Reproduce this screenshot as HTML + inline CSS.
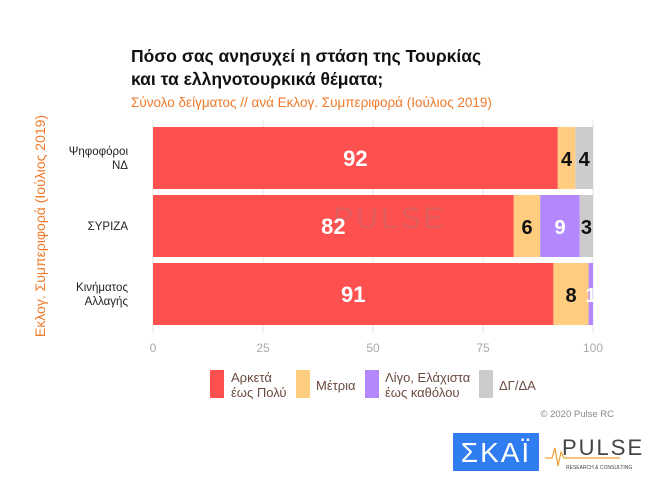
<!DOCTYPE html>
<html><head><meta charset="utf-8"><style>
body{margin:0;background:#fff;}
svg text{font-family:"Liberation Sans","DejaVu Sans",sans-serif;}
</style></head><body>
<svg id="chart" width="650" height="478" xmlns="http://www.w3.org/2000/svg">
<text x="131" y="62" font-size="17.5" font-weight="bold" fill="#111">Πόσο σας ανησυχεί η στάση της Τουρκίας</text>
<text x="131" y="85" font-size="17.5" font-weight="bold" fill="#111">και τα ελληνοτουρκικά θέματα;</text>
<text x="131" y="107" font-size="13.5" fill="#f07a2a">Σύνολο δείγματος // ανά Εκλογ. Συμπεριφορά (Ιούλιος 2019)</text>
<text transform="translate(45,226) rotate(-90)" text-anchor="middle" font-size="14" fill="#f07a2a">Εκλογ. Συμπεριφορά (Ιούλιος 2019)</text>
<g id="grid"></g>
<g id="bars"></g>
<text x="390" y="228" text-anchor="middle" font-size="30" fill="#888" opacity="0.25" letter-spacing="3">PULSE</text>
<g id="labels"></g>
<g id="legend">
<rect x="210" y="370" width="14" height="28" fill="#ff5050"/>
<text x="231" y="382" font-size="13" fill="#6b4a3f">Αρκετά</text>
<text x="231" y="397" font-size="13" fill="#6b4a3f">έως Πολύ</text>
<rect x="296" y="370" width="14" height="28" fill="#ffcc80"/>
<text x="316" y="390" font-size="13" fill="#6b4a3f">Μέτρια</text>
<rect x="365" y="370" width="14" height="28" fill="#b388ff"/>
<text x="385" y="382" font-size="13" fill="#6b4a3f">Λίγο, Ελάχιστα</text>
<text x="385" y="397" font-size="13" fill="#6b4a3f">έως καθόλου</text>
<rect x="479" y="370" width="14" height="28" fill="#cccccc"/>
<text x="499" y="390" font-size="13" fill="#6b4a3f">ΔΓ/ΔΑ</text>
</g>
<text x="614" y="417" text-anchor="end" font-size="9.5" fill="#888">© 2020 Pulse RC</text>
<g>
<rect x="453" y="433" width="86" height="38" fill="#2f7df0"/>
<text x="496" y="462" text-anchor="middle" font-size="28" fill="#fff" letter-spacing="2">ΣΚΑΪ</text>
</g>
<g>
<polyline points="545,458 552,458 555,448 558,466 561,452 564,458 620,458" fill="none" stroke="#f0a030" stroke-width="1.2"/>
<text x="562" y="455" font-size="22" fill="#444" letter-spacing="2">PULSE</text>
<text x="566" y="469" font-size="5" fill="#444">RESEARCH &amp; CONSULTING</text>
</g>
</svg>
<script>
const categories = ["Ψηφοφόροι ΝΔ", "ΣΥΡΙΖΑ", "Κινήματος Αλλαγής"];
const catLines = [["Ψηφοφόροι","ΝΔ"],["ΣΥΡΙΖΑ"],["Κινήματος","Αλλαγής"]];
const seriesNames = ["Αρκετά έως Πολύ","Μέτρια","Λίγο, Ελάχιστα έως καθόλου","ΔΓ/ΔΑ"];
const muchValues = [92, 82, 91];
const moderateValues = [4, 6, 8];
const littleValues = [0, 9, 1];
const dkValues = [4, 3, 0];
const ticks = [0, 25, 50, 75, 100];
const series = [muchValues, moderateValues, littleValues, dkValues];
const colors = ["#ff5050","#ffcc80","#b388ff","#cccccc"];
const textColors = ["#fff","#111","#fff","#111"];
const NS="http://www.w3.org/2000/svg";
const x = v => 153 + v * 4.4;
const rowTop = i => 127 + i * 68;
const barH = 62;
function mk(tag, attrs, parent){const e=document.createElementNS(NS,tag);for(const k in attrs)e.setAttribute(k,attrs[k]);parent.appendChild(e);return e;}
const grid=document.getElementById('grid'), bars=document.getElementById('bars'), labels=document.getElementById('labels');
ticks.forEach(t=>{
  const l=mk('line',{x1:x(t),x2:x(t),y1:120,y2:333,stroke:'#e6e6e6','stroke-width':1},grid);
  
  
  const tx=mk('text',{x:x(t),y:352,'text-anchor':'middle','font-size':12,fill:'#aaa'},grid);
  tx.textContent=t;
  
  
});
categories.forEach((c,i)=>{
  const lines=catLines[i];
  const cy=rowTop(i)+barH/2;
  lines.forEach((ln,j)=>{
    const t=mk('text',{x:128,y:cy+4+(j-(lines.length-1)/2)*14,'text-anchor':'end','font-size':11.5,fill:'#222'},labels);
    t.textContent=ln;
    
    
  });
  let acc=0;
  series.forEach((s,k)=>{
    const v=s[i];
    if(v<=0)return;
    const r=mk('rect',{x:x(acc),y:rowTop(i),width:x(acc+v)-x(acc),height:barH,fill:colors[k]},bars);
    
    
    const cx=(x(acc)+x(acc+v))/2;
    const t=mk('text',{x:cx,y:rowTop(i)+barH/2+8,'text-anchor':'middle','font-size':k===0?22:20,'font-weight':'bold',fill:textColors[k]},labels);
    t.textContent=v;
    
    
    acc+=v;
  });
});
</script>
</body></html>
